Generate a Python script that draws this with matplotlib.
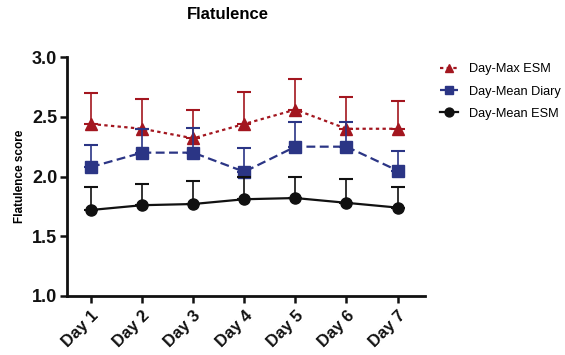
import numpy as np
import matplotlib
matplotlib.use("Agg")
import matplotlib.pyplot as plt

plt.rcParams["font.family"] = ["Liberation Sans", "DejaVu Sans"]

# Data
days = ["Day 1", "Day 2", "Day 3", "Day 4", "Day 5", "Day 6", "Day 7"]

max_esm = [2.44, 2.40, 2.32, 2.44, 2.56, 2.40, 2.40]
max_esm_upper = [2.70, 2.65, 2.56, 2.71, 2.82, 2.67, 2.63]

mean_diary = [2.08, 2.20, 2.20, 2.04, 2.25, 2.25, 2.05]
mean_diary_upper = [2.26, 2.40, 2.41, 2.24, 2.46, 2.46, 2.21]

mean_esm = [1.72, 1.76, 1.77, 1.81, 1.82, 1.78, 1.74]
mean_esm_upper = [1.91, 1.94, 1.96, 2.00, 2.00, 1.98, 1.91]

series = [
    ("Day-Max ESM", max_esm, max_esm_upper, "#a3161f", "^", (0, (1.5, 1.5))),
    ("Day-Mean Diary", mean_diary, mean_diary_upper, "#2b3585", "s", (0, (4, 2))),
    ("Day-Mean ESM", mean_esm, mean_esm_upper, "#111111", "o", "-"),
]

fig = plt.figure(figsize=(5.65, 3.55), dpi=100)
ax = fig.add_axes([0.1186, 0.1662, 0.633, 0.673])

x = np.arange(len(days))
handles = []
for label, vals, upper, color, marker, ls in series:
    vals = np.array(vals)
    err = np.array(upper) - vals
    ax.errorbar(x, vals, yerr=[np.zeros_like(err), err], fmt="none",
                ecolor=color, elinewidth=1.2, capsize=5, capthick=1.5)
    h, = ax.plot(x, vals, color=color, linestyle=ls, linewidth=1.6,
                 marker=marker, markersize=8, label=label)
    handles.append(h)

ax.set_xlim(-0.47, 6.53)
ax.set_ylim(1.0, 3.0)
ax.set_yticks([1.0, 1.5, 2.0, 2.5, 3.0])
ax.set_yticklabels(["1.0", "1.5", "2.0", "2.5", "3.0"], fontsize=13, fontweight="bold")
ax.set_xticks(x)
ax.set_xticklabels(days, rotation=45, ha="right", rotation_mode="anchor",
                   fontsize=12, fontweight="bold")
ax.set_ylabel("Flatulence score", fontsize=8.5, fontweight="bold")

for side in ["top", "right"]:
    ax.spines[side].set_visible(False)
for side in ["left", "bottom"]:
    ax.spines[side].set_linewidth(2)
    ax.spines[side].set_color("#111111")
ax.tick_params(direction="out", width=1.8, length=5, colors="#111111")
ax.tick_params(axis="y", pad=2)

fig.text(0.404, 0.958, "Flatulence", ha="center", va="center",
         fontsize=12, fontweight="bold")

ax.legend(handles=handles, loc="upper left", bbox_to_anchor=(1.03, 0.995),
          frameon=False, fontsize=9.2, handlelength=1.4, labelspacing=0.8,
          handletextpad=0.8, markerscale=0.8, borderaxespad=0)

fig.savefig("out.png", dpi=100)
